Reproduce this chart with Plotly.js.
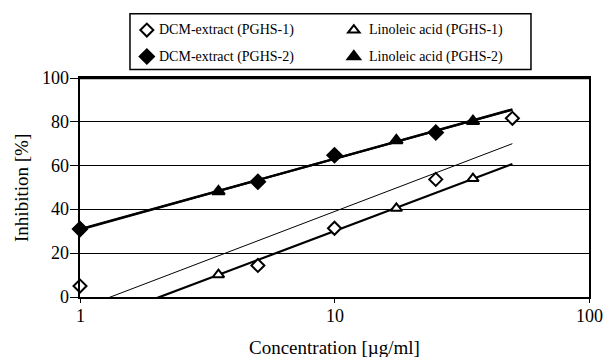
<!DOCTYPE html>
<html>
<head>
<meta charset="utf-8">
<script src="https://cdn.plot.ly/plotly-3.0.1.min.js"></script>
</head>
<body style="margin:0">
<div id="chart"></div>
<script>
// Data
const dcm1X = [1, 5, 10, 25, 50];
const dcm1Y = [5, 14.4, 31.4, 53.7, 81.6];
const dcm2X = [1, 5, 10, 25];
const dcm2Y = [31, 52.6, 64.7, 75.1];
const lin1X = [3.5, 17.5, 35];
const lin1Y = [10.2, 40.5, 54.1];
const lin2X = [3.5, 17.5, 35];
const lin2Y = [48.2, 71.5, 80.3];
const trendRange = [1, 50];
const names = ['DCM-extract (PGHS-1)', 'Linoleic acid (PGHS-1)', 'DCM-extract (PGHS-2)', 'Linoleic acid (PGHS-2)'];
const yTicks = [0, 20, 40, 60, 80, 100];
const xTicks = [1, 10, 100];
const xTitle = 'Concentration [\u00b5g/ml]';
const yTitle = 'Inhibition [%]';

// logarithmic trend line (least squares of y on ln x), as in the original
function logTrend(xs, ys) {
  const lx = xs.map(Math.log);
  const n = xs.length;
  const mx = lx.reduce((a, b) => a + b, 0) / n;
  const my = ys.reduce((a, b) => a + b, 0) / n;
  let sxx = 0, sxy = 0;
  for (let i = 0; i < n; i++) { sxx += (lx[i] - mx) ** 2; sxy += (lx[i] - mx) * (ys[i] - my); }
  const b = sxy / sxx, a = my - b * mx;
  return { x: trendRange.slice(), y: trendRange.map(v => a + b * Math.log(v)) };
}

const serifFamilies = ['Times New Roman'];
const FAM = serifFamilies[0];
function trend(xs, ys, w) {
  const t = logTrend(xs, ys);
  return { x: t.x, y: t.y, mode: 'lines', line: { color: '#000', width: w }, showlegend: false, hoverinfo: 'skip' };
}
function pts(xs, ys, symbol, fill, size) {
  return { x: xs, y: ys, name: ' ', mode: 'markers', cliponaxis: false,
    marker: { symbol: symbol, size: size, color: fill, line: { color: '#000', width: 2 } } };
}

const data = [
  trend(dcm1X, dcm1Y, 1),
  trend(lin1X, lin1Y, 2.2),
  trend(dcm2X, dcm2Y, 2.2),
  trend(lin2X, lin2Y, 2.2),
  pts(dcm1X, dcm1Y, 'diamond', '#fff', 10),
  pts(lin1X, lin1Y, 'triangle-up', '#fff', 10),
  pts(dcm2X, dcm2Y, 'diamond', '#000', 11),
  pts(lin2X, lin2Y, 'triangle-up', '#000', 11)
];

// text drawn as annotations
const ann = [];
xTicks.forEach(v => ann.push({ xref: 'x', yref: 'paper', x: Math.log10(v), y: -0.085, yanchor: 'middle', xanchor: 'center', text: String(v), showarrow: false, font: { family: FAM, size: 18, color: '#000' } }));
yTicks.forEach(v => ann.push({ xref: 'paper', yref: 'y', x: 0, y: v, xanchor: 'right', yanchor: 'middle', xshift: -9, text: String(v), showarrow: false, font: { family: FAM, size: 18, color: '#000' } }));
ann.push({ xref: 'paper', yref: 'paper', x: 0.5, y: -0.229, xanchor: 'center', yanchor: 'middle', text: xTitle, showarrow: false, font: { family: FAM, size: 19, color: '#000' } });
ann.push({ xref: 'paper', yref: 'paper', x: -0.115, y: 0.5, xanchor: 'center', yanchor: 'middle', textangle: -90, text: yTitle, showarrow: false, font: { family: FAM, size: 19, color: '#000' } });
const legX = [0.1513, 0.5639, 0.1513, 0.5639];
const legY = [1.2205, 1.2205, 1.0977, 1.0977];
names.forEach((nm, i) => ann.push({ xref: 'paper', yref: 'paper', x: legX[i], y: legY[i], xanchor: 'left', yanchor: 'middle', text: nm, showarrow: false, font: { family: FAM, size: 14, color: '#000' } }));

const layout = {
  width: 606, height: 357,
  margin: { l: 80, r: 17, t: 78, b: 60 },
  paper_bgcolor: '#fff', plot_bgcolor: '#fff',
  showlegend: true,
  legend: {
    orientation: 'h', x: 0.092, xanchor: 'left', y: 1.302, yanchor: 'top',
    entrywidth: 162, entrywidthmode: 'pixels',
    borderwidth: 0, bgcolor: 'rgba(0,0,0,0)',
    font: { size: 18 },
    traceorder: 'normal'
  },
  xaxis: {
    type: 'log', range: [0, 2], tickvals: xTicks, showticklabels: false,
    showgrid: false, zeroline: false, showline: true, linecolor: '#000', linewidth: 1.5, mirror: true,
    ticks: 'outside', ticklen: 4, tickcolor: '#000'
  },
  yaxis: {
    range: [0, 100], tickvals: yTicks, showticklabels: false, showgrid: true, gridcolor: '#000', gridwidth: 1.2,
    zeroline: false, showline: true, linecolor: '#000', linewidth: 1.5, mirror: true,
    ticks: 'outside', ticklen: 8, tickcolor: '#000'
  },
  annotations: ann,
  shapes: [
    { type: 'line', xref: 'paper', yref: 'paper', x0: 0, x1: 1, y0: 1, y1: 1, line: { color: '#000', width: 2.5 } },
    { type: 'rect', xref: 'paper', yref: 'paper', x0: 0.0982, x1: 0.886, y0: 1.0386, y1: 1.293, line: { color: '#000', width: 1.5 }, fillcolor: 'rgba(0,0,0,0)' }
  ]
};

Plotly.newPlot('chart', data, layout, { displayModeBar: false });
</script>
</body>
</html>
